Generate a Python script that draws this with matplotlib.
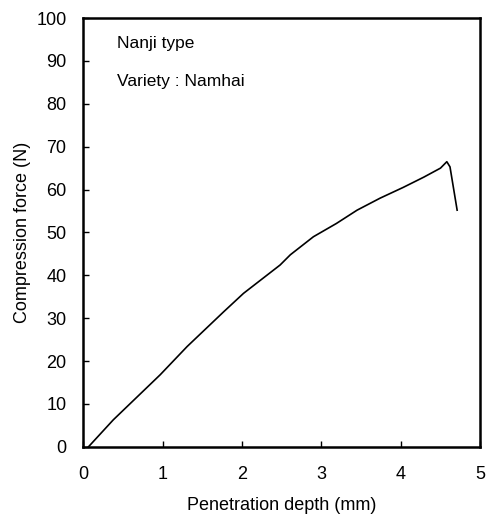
import matplotlib
matplotlib.use("Agg")
import matplotlib.pyplot as plt

plt.rcParams['font.family'] = ['Liberation Sans', 'DejaVu Sans']

depth = [0.0, 0.067, 0.38, 0.97, 1.31, 1.77, 2.02, 2.25, 2.48, 2.61, 2.90, 3.19,
         3.45, 3.74, 4.03, 4.29, 4.50, 4.58, 4.62, 4.71]
force = [0.0, 0.0, 6.3, 16.8, 23.4, 31.5, 35.8, 39.1, 42.4, 44.8, 49.0, 52.1,
         55.2, 58.0, 60.5, 62.9, 65.0, 66.5, 65.3, 55.2]
xticks = [0, 1, 2, 3, 4, 5]
yticks = [0, 10, 20, 30, 40, 50, 60, 70, 80, 90, 100]

fig = plt.figure(figsize=(4.86, 5.16), dpi=100)
ax = fig.add_axes([0.171, 0.134, 0.817, 0.831])
ax.plot(depth[1:], force[1:], color='black', lw=1.2)
ax.set_xlim(0, 5)
ax.set_ylim(0, 100)
ax.set_xticks(xticks)
ax.set_yticks(yticks)
ax.tick_params(direction='in', length=4, labelsize=13, width=1)
ax.tick_params(axis='x', pad=14)
ax.tick_params(axis='y', pad=12)
for s in ax.spines.values():
    s.set_linewidth(1.8)
ax.set_xlabel('Penetration depth (mm)', fontsize=13, labelpad=10)
ax.set_ylabel('Compression force (N)', fontsize=13, labelpad=4)
ax.text(0.085, 0.94, 'Nanji type', transform=ax.transAxes, fontsize=12.5, va='center')
ax.text(0.085, 0.853, 'Variety : Namhai', transform=ax.transAxes, fontsize=12.5, va='center')
fig.savefig('out.png', dpi=100)
